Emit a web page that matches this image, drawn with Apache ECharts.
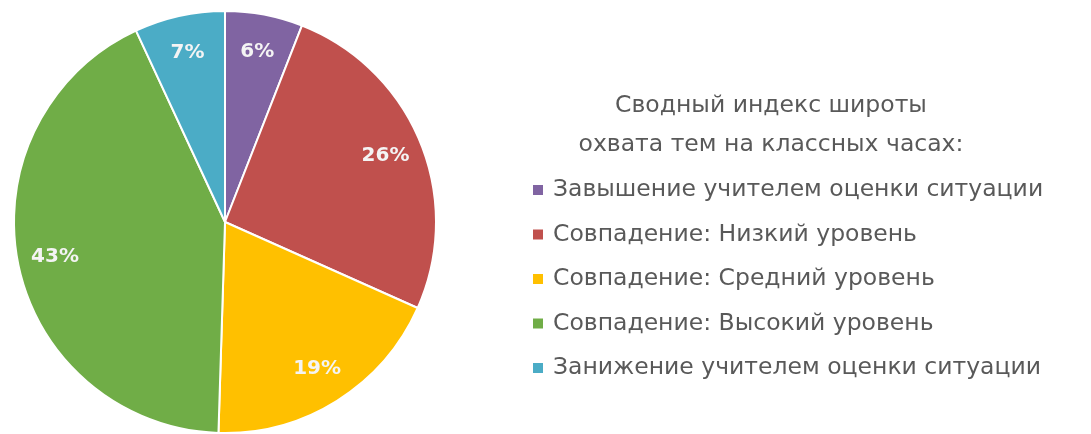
<!DOCTYPE html>
<html>
<head>
<meta charset="utf-8">
<script src="https://cdn.jsdelivr.net/npm/echarts@6/dist/echarts.min.js"></script>
<style>
  html, body { margin: 0; padding: 0; background: #ffffff; }
  #chart { width: 1091px; height: 434px; }
</style>
</head>
<body>
<div id="chart"></div>
<script>
// Categories and their shares (percent)
const categories = [
  'Завышение учителем оценки ситуации',
  'Совпадение: Низкий уровень',
  'Совпадение: Средний уровень',
  'Совпадение: Высокий уровень',
  'Занижение учителем оценки ситуации'
];
const shares = [6, 26, 19, 43, 7];
const colors = ['#8064A2', '#C0504D', '#FFC000', '#70AD47', '#4BACC6'];
const legendTitle = 'Сводный индекс широты\nохвата тем на классных часах:';

const pieData = categories.map((name, i) => ({
  name: name,
  value: shares[i],
  itemStyle: { color: colors[i] }
}));

// same slices, used only to carry the percentage labels
const labelData = categories.map((name, i) => ({
  name: name,
  value: shares[i],
  itemStyle: { color: 'transparent' }
}));

const chart = echarts.init(document.getElementById('chart'), null, { renderer: 'canvas' });
const font = '"DejaVu Sans", sans-serif';

chart.setOption({
  animation: false,
  title: {
    text: legendTitle,
    left: 766,
    top: 81,
    textAlign: 'center',
    textStyle: {
      fontFamily: font,
      fontSize: 23.5,
      fontWeight: 'normal',
      color: '#595959',
      lineHeight: 39
    }
  },
  legend: {
    data: categories,
    orient: 'vertical',
    left: 526,
    top: 173,
    itemWidth: 12,
    itemHeight: 12,
    itemGap: 20.5,
    icon: 'rect',
    textStyle: {
      fontFamily: font,
      fontSize: 23.5,
      lineHeight: 24,
      color: '#595959',
      padding: [0, 0, 0, 4]
    }
  },
  series: [
    {
      type: 'pie',
      center: [225, 222],
      radius: [0, 211],
      startAngle: 90,
      clockwise: true,
      silent: true,
      itemStyle: { borderColor: '#ffffff', borderWidth: 2 },
      label: { show: false },
      labelLine: { show: false },
      data: pieData
    },
    {
      // ring carrying the percentage labels at ~0.82 of the radius
      type: 'pie',
      center: [225, 222],
      radius: [130, 211],
      startAngle: 90,
      clockwise: true,
      silent: true,
      legendHoverLink: false,
      itemStyle: { borderWidth: 0 },
      label: {
        show: true,
        position: 'inside',
        formatter: p => p.value + '%',
        color: '#f4f4f4',
        fontFamily: font,
        fontSize: 20,
        fontWeight: 'bold'
      },
      labelLine: { show: false },
      data: labelData
    }
  ]
});
</script>
</body>
</html>
